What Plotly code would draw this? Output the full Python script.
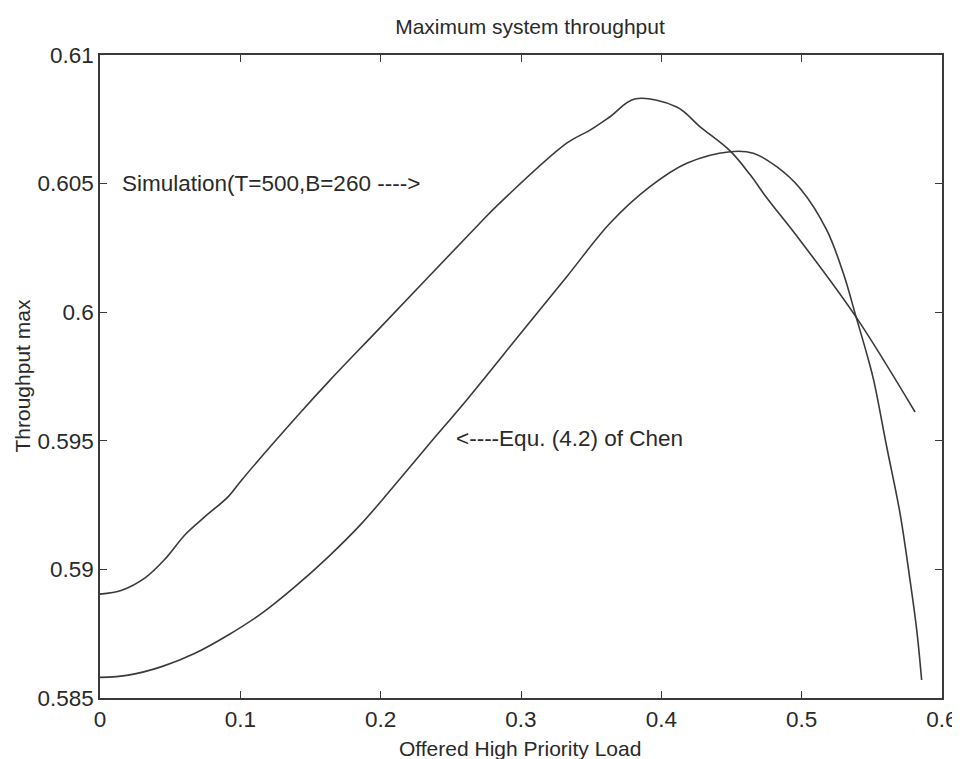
import plotly.graph_objects as go

# Simulation (T=500, B=260) curve
sim_x = [0.0, 0.0155, 0.0321, 0.0463, 0.0606, 0.0748, 0.0914, 0.101, 0.1425, 0.1639,
         0.1995, 0.2708, 0.285, 0.3328, 0.3492, 0.3634, 0.381, 0.411, 0.4276, 0.449,
         0.4632, 0.4751, 0.4988, 0.5388, 0.5808]
sim_y = [0.58904, 0.58919, 0.58967, 0.5904, 0.59135, 0.59205, 0.59283, 0.59348, 0.59608, 0.59736,
         0.59939, 0.60347, 0.60425, 0.60658, 0.60708, 0.6076, 0.60829, 0.60798, 0.60721, 0.60627,
         0.60535, 0.60445, 0.6028, 0.59981, 0.59612]

# Equ. (4.2) of Chen curve
chen_x = [0.0, 0.0202, 0.044, 0.0677, 0.0914, 0.1152, 0.139, 0.1627, 0.1865, 0.2126,
          0.2359, 0.2613, 0.3017, 0.3326, 0.3634, 0.3919, 0.4181, 0.449, 0.4655, 0.4822,
          0.4988, 0.5178, 0.5297, 0.5387, 0.5463, 0.5513, 0.5606, 0.5701, 0.5772, 0.582, 0.5855]
chen_y = [0.5858, 0.58589, 0.58622, 0.58674, 0.58745, 0.58829, 0.58933, 0.59049, 0.59179, 0.59345,
          0.59496, 0.59659, 0.59931, 0.60138, 0.60346, 0.60488, 0.60579, 0.60624, 0.60618, 0.60566,
          0.60482, 0.6032, 0.60151, 0.59983, 0.5984, 0.59736, 0.59477, 0.59218, 0.58959, 0.58764, 0.5857]

x_ticks = [0, 0.1, 0.2, 0.3, 0.4, 0.5, 0.6]
x_tick_labels = ["0", "0.1", "0.2", "0.3", "0.4", "0.5", "0.6"]
y_ticks = [0.585, 0.59, 0.595, 0.6, 0.605, 0.61]
y_tick_labels = ["0.585", "0.59", "0.595", "0.6", "0.605", "0.61"]

FONT = "Liberation Sans, Arial, sans-serif"
INK = "#2a2a2a"
FS = 22.5

W, H = 952, 751          # page has an 8px body margin
L, R, T, B = 92, 18, 47, 61
PW, PH = W - L - R, H - T - B

fig = go.Figure()
fig.add_trace(go.Scatter(x=sim_x, y=sim_y, mode="lines", line=dict(color="#3a3a3a", width=1.6),
                         line_shape="spline", name="Simulation", showlegend=False))
fig.add_trace(go.Scatter(x=chen_x, y=chen_y, mode="lines", line=dict(color="#3a3a3a", width=1.6),
                         line_shape="spline", name="Chen", showlegend=False))

fig.add_annotation(x=0.0143, y=0.605, xref="x", yref="y", text="Simulation(T=500,B=260 ---->",
                   showarrow=False, xanchor="left", yanchor="middle",
                   font=dict(family=FONT, size=FS, color=INK))
fig.add_annotation(x=0.2525, y=0.5951, xref="x", yref="y", text="<----Equ. (4.2) of Chen",
                   showarrow=False, xanchor="left", yanchor="middle",
                   font=dict(family=FONT, size=FS, color=INK))

# axis titles as annotations for precise placement (page px -> paper coords)
fig.add_annotation(x=(520 - 8 - L) / PW, y=(H - B - (748 - 8)) / PH, xref="paper", yref="paper",
                   text="Offered High Priority Load", showarrow=False,
                   xanchor="center", yanchor="middle",
                   font=dict(family=FONT, size=FS - 1.5, color=INK))
fig.add_annotation(x=(22 - 8 - L) / PW, y=0.5, xref="paper", yref="paper",
                   text="Throughput max", showarrow=False, textangle=-90,
                   xanchor="center", yanchor="middle",
                   font=dict(family=FONT, size=FS - 1.5, color=INK))

axis_common = dict(showline=True, linecolor="#3a3a3a", linewidth=1.5, mirror="ticks",
                   ticks="inside", ticklen=7, tickcolor="#3a3a3a", tickwidth=1.2,
                   showgrid=False, zeroline=False, automargin=False,
                   tickfont=dict(family=FONT, size=FS, color=INK))

fig.update_xaxes(range=[0, 0.6], tickvals=x_ticks, ticktext=x_tick_labels, **axis_common)
fig.update_yaxes(range=[0.585, 0.61], tickvals=y_ticks, ticktext=y_tick_labels, **axis_common)

fig.update_layout(
    width=W, height=H,
    margin=dict(l=L, r=R, t=T, b=B, autoexpand=False),
    paper_bgcolor="white", plot_bgcolor="white",
    title=dict(text="Maximum system throughput", x=(530 - 8) / W, xanchor="center",
               y=1 - (27 - 8) / H, yanchor="middle", xref="container", yref="container",
               font=dict(family=FONT, size=FS - 1.5, color=INK)),
)

fig.write_html("out.html")
